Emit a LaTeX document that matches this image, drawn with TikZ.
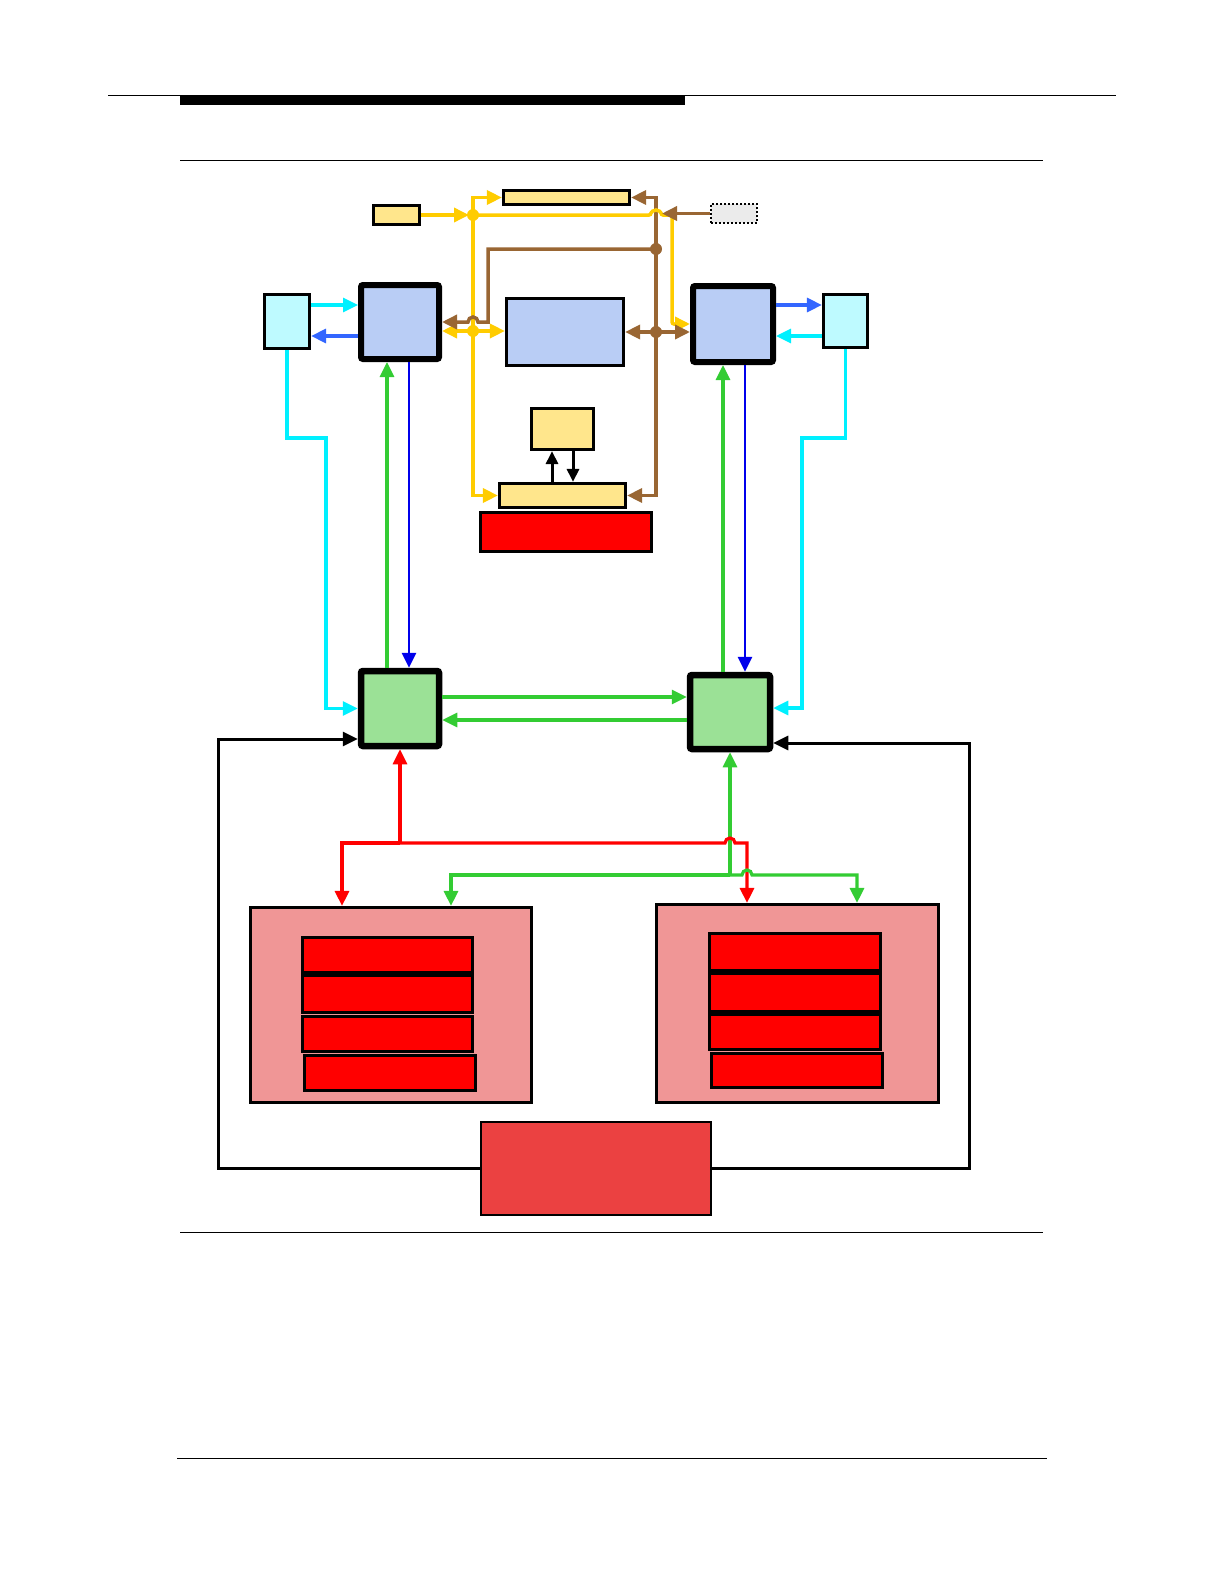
\documentclass[tikz,border=0pt]{standalone}
\usetikzlibrary{arrows.meta}
\definecolor{cyl}{RGB}{255,204,0}
\definecolor{cbr}{RGB}{153,102,51}
\definecolor{ccy}{RGB}{0,240,255}
\definecolor{crb}{RGB}{51,102,255}
\definecolor{cdb}{RGB}{0,0,235}
\definecolor{cgn}{RGB}{51,204,51}
\definecolor{crd}{RGB}{255,0,0}
\definecolor{fyl}{RGB}{255,230,140}
\definecolor{fbl}{RGB}{185,205,245}
\definecolor{fcy}{RGB}{190,250,255}
\definecolor{fgn}{RGB}{155,225,150}
\definecolor{fpk}{RGB}{240,150,150}
\definecolor{frb}{RGB}{235,65,65}
\definecolor{fgy}{RGB}{235,235,235}
\begin{document}
\begin{tikzpicture}[x=1pt,y=-1pt,
  >={Triangle[length=15pt,width=14pt]},
  bx/.style={draw=black,inner sep=0pt,line width=#1},
  yl/.style={draw=cyl,line width=3.5pt},
  brn/.style={draw=cbr,line width=3.5pt},
  cyn/.style={draw=ccy,line width=3.2pt},
  rbl/.style={draw=crb,line width=3.2pt},
  dbl/.style={draw=cdb,line width=2.7pt},
  grn/.style={draw=cgn,line width=3.2pt},
  rdl/.style={draw=crd,line width=3.2pt},
  blk/.style={draw=black,line width=3pt},
  dotc/.style={circle,inner sep=0pt,minimum size=12pt}]
\useasboundingbox (0,0) rectangle (1224,1584);
% page rules
\draw[line width=1pt] (108,96) -- (1116,96);
\fill[black] (180,96) rectangle (685,105);
\draw[line width=1pt] (180,160) -- (1043,160);
\draw[line width=1pt] (180,1232) -- (1043,1232);
\draw[line width=1pt] (177,1458) -- (1047,1458);

% nodes
\node[bx=3.2pt,fill=fyl,minimum width=46pt,minimum height=19pt] (ysmall) at (396.5,215) {};
\node[bx=3.2pt,fill=fyl,minimum width=126pt,minimum height=14pt] (ytop) at (566.5,197.5) {};
\node[draw=black,line width=2pt,dash pattern=on 2pt off 2pt,fill=fgy,inner sep=0pt,minimum width=46pt,minimum height=19pt] (gray) at (734,213.5) {};
\node[bx=6pt,fill=fbl,rounded corners=2pt,minimum width=78pt,minimum height=74pt] (bluel) at (400,322) {};
\node[bx=3.2pt,fill=fbl,minimum width=117pt,minimum height=67pt] (bluec) at (565,332) {};
\node[bx=6pt,fill=fbl,rounded corners=2pt,minimum width=80pt,minimum height=76pt] (bluer) at (733,324) {};
\node[bx=3.2pt,fill=fcy,minimum width=45pt,minimum height=54pt] (cyanl) at (287,321.5) {};
\node[bx=3.2pt,fill=fcy,minimum width=44pt,minimum height=53pt] (cyanr) at (845.5,321) {};
\node[bx=3.2pt,fill=fyl,minimum width=62pt,minimum height=41pt] (ymid) at (562.5,429) {};
\node[bx=3.2pt,fill=fyl,minimum width=126pt,minimum height=24pt] (ybot) at (562.5,495.5) {};
\node[bx=3.2pt,fill=red,minimum width=171pt,minimum height=39pt] (redtop) at (566,532) {};
\node[bx=6.5pt,fill=fgn,rounded corners=2pt,minimum width=78pt,minimum height=75pt] (greenl) at (400,708.5) {};
\node[bx=6.5pt,fill=fgn,rounded corners=2pt,minimum width=80pt,minimum height=74pt] (greenr) at (730,712) {};
\node[bx=3.2pt,fill=fpk,minimum width=281pt,minimum height=195pt] (pinkl) at (391,1005) {};
\node[bx=3.2pt,fill=fpk,minimum width=282pt,minimum height=198pt] (pinkr) at (797.5,1003.5) {};
\node[bx=3.2pt,fill=red,minimum width=170pt,minimum height=35pt] (bl1) at (387.5,955) {};
\node[bx=3.2pt,fill=red,minimum width=170pt,minimum height=37pt] (bl2) at (387.5,994) {};
\node[bx=3.2pt,fill=red,minimum width=170pt,minimum height=35pt] (bl3) at (387.5,1034) {};
\node[bx=3.2pt,fill=red,minimum width=171pt,minimum height=35pt] (bl4) at (390,1073) {};
\node[bx=3.2pt,fill=red,minimum width=171pt,minimum height=37pt] (br1) at (795,952) {};
\node[bx=3.2pt,fill=red,minimum width=171pt,minimum height=38pt] (br2) at (795,992.5) {};
\node[bx=3.2pt,fill=red,minimum width=171pt,minimum height=35pt] (br3) at (795,1032) {};
\node[bx=3.2pt,fill=red,minimum width=171pt,minimum height=34pt] (br4) at (797,1070.5) {};
\node[bx=2pt,fill=frb,minimum width=230pt,minimum height=93pt] (redbot) at (596,1168.5) {};

% helper coordinates
\coordinate (yj1) at (473,215);
\coordinate (yj2) at (473,331);
\coordinate (yv1) at (473,197.5);
\coordinate (yv2) at (473,495.5);
\coordinate (bv1) at (656,197.5);
\coordinate (bv2) at (656,495.5);
\coordinate (bj0) at (656,213.5);
\coordinate (bj1) at (656,249);
\coordinate (bj2) at (656,332);
\coordinate (lv1) at (0,305);
\coordinate (lv2) at (0,336);
\coordinate (cl) at (0,708.5);
\coordinate (cr) at (0,708);
\coordinate (gh1) at (0,697);
\coordinate (gh2) at (0,720);
\coordinate (kl) at (0,739);
\coordinate (kr) at (0,743);
\coordinate (gxl) at (387,0);
\coordinate (bxl) at (409,0);
\coordinate (gxr) at (723,0);
\coordinate (bxr) at (745,0);
\coordinate (rj) at (400,843);
\coordinate (gj) at (730,875);

% yellow vertical & brown vertical
\draw[yl,<->] (ytop.west) -- (yv1) -- (yv2) -- (ybot.west);
\draw[brn,<->] (ytop.east) -- (bv1) -- (bv2) -- (ybot.east);
% yellow from small box, hopping brown vertical
\draw[yl,->,shorten >=4pt] (ysmall.east) -- (yj1);
\draw[yl,->,rounded corners=2pt] (yj1) -- (651,215) arc[start angle=180,end angle=360,radius=5] -- (672,215) -- (672,324) -- (bluer.west |- 0,324);
\draw[yl,<->] (yj2 -| bluel.east) -- (yj2 -| bluec.west);
% brown
\draw[brn,->,shorten >=6pt] (gray.west) -- (bj0);
\draw[brn,->] (bj1) -- (488,249) -- (488,322) -- (478,322) arc[start angle=0,end angle=-180,radius=5] -- (bluel.east);
\draw[brn,<->] (bj2 -| bluec.east) -- (bj2 -| bluer.west);
\node[dotc,fill=cyl] (dy1) at (yj1) {};
\node[dotc,fill=cyl] (dy2) at (yj2) {};
\node[dotc,fill=cbr] (db1) at (bj1) {};
\node[dotc,fill=cbr] (db2) at (bj2) {};

% black between middle yellow boxes
\draw[blk,->,>={Triangle[length=13pt,width=12pt]}] (552,0 |- ybot.north) -- (552,0 |- ymid.south);
\draw[blk,->,>={Triangle[length=13pt,width=12pt]}] (573,0 |- ymid.south) -- (573,0 |- ybot.north);

% cyan / royal blue
\draw[cyn,->] (lv1 -| cyanl.east) -- (lv1 -| bluel.west);
\draw[rbl,->] (lv2 -| bluel.west) -- (lv2 -| cyanl.east);
\draw[rbl,->] (lv1 -| bluer.east) -- (lv1 -| cyanr.west);
\draw[cyn,->] (lv2 -| cyanr.west) -- (lv2 -| bluer.east);
\draw[cyn,->] (cyanl.south) -- (287,438) -- (326,438) -- (326,708.5) -- (cl -| greenl.west);
\draw[cyn,->] (cyanr.south) -- (845.5,438) -- (802,438) -- (802,708) -- (cr -| greenr.east);

% vertical green / blue
\draw[grn,->] (gxl |- greenl.north) -- (gxl |- bluel.south);
\draw[dbl,->] (bxl |- bluel.south) -- (bxl |- greenl.north);
\draw[grn,->] (gxr |- greenr.north) -- (gxr |- bluer.south);
\draw[dbl,->] (bxr |- bluer.south) -- (bxr |- greenr.north);
% horizontal green
\draw[grn,->] (gh1 -| greenl.east) -- (gh1 -| greenr.west);
\draw[grn,->] (gh2 -| greenr.west) -- (gh2 -| greenl.east);

% black loops
\draw[blk,->] (redbot.west) -- (218,1168.5) -- (218,739) -- (kl -| greenl.west);
\draw[blk,->] (redbot.east) -- (969,1168.5) -- (969,743) -- (kr -| greenr.east);

% green trunk
\draw[grn,->] (gj) -- (greenr.south);
% red tree
\draw[rdl,->] (rj) -- (greenl.south);
\draw[rdl,->] (rj) -- (342,843) -- (342,0 |- pinkl.north);
\draw[rdl,->] (rj) -- (725,843) arc[start angle=180,end angle=360,radius=5] -- (747,843) -- (747,0 |- pinkr.north);
% green tree
\draw[grn,->] (gj) -- (451,875) -- (451,0 |- pinkl.north);
\draw[grn,->] (gj) -- (742,875) arc[start angle=180,end angle=360,radius=5] -- (857,875) -- (857,0 |- pinkr.north);
\end{tikzpicture}
\end{document}
